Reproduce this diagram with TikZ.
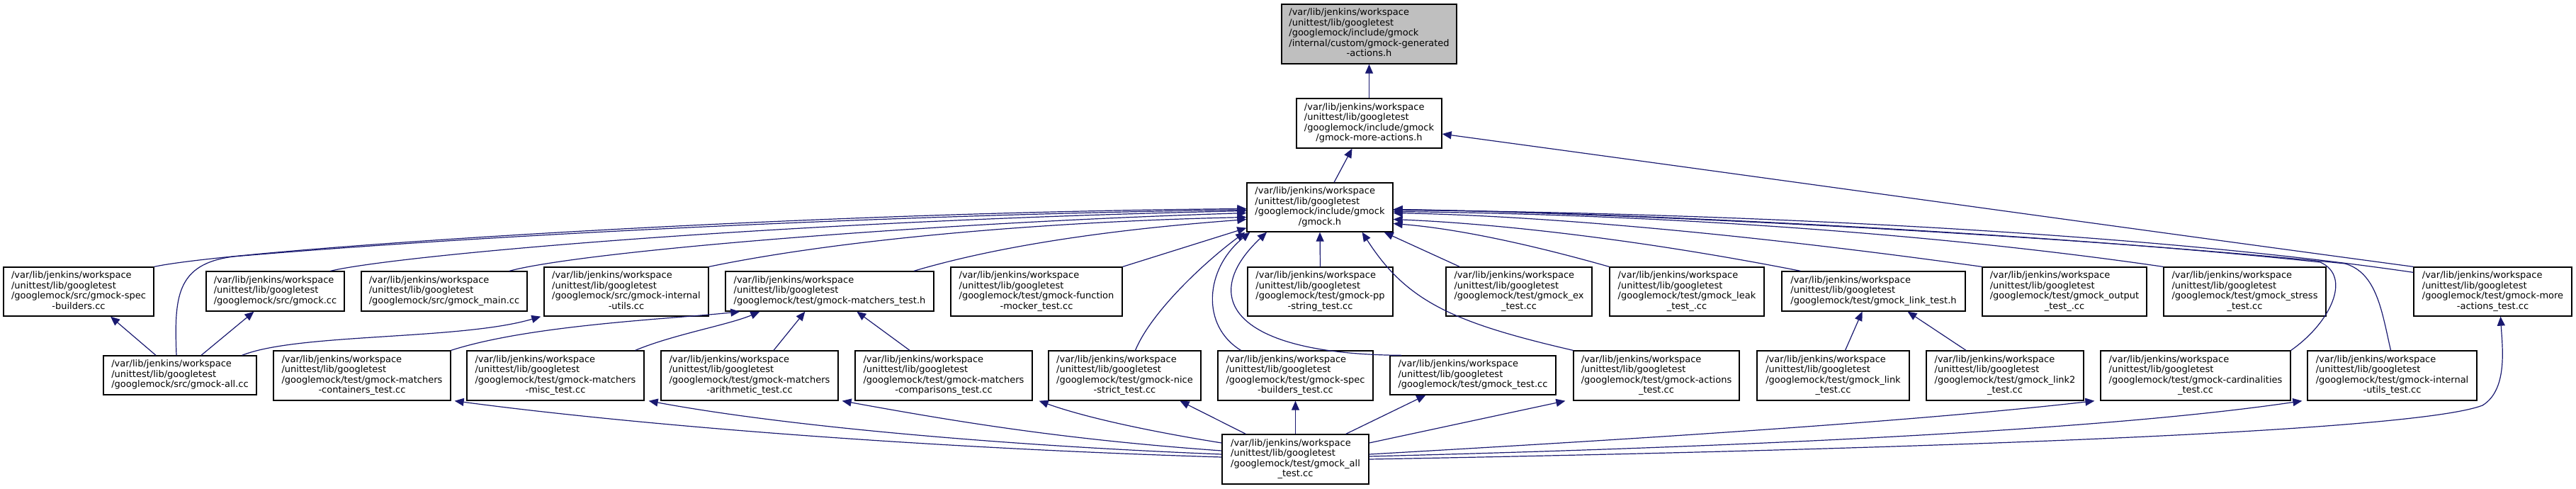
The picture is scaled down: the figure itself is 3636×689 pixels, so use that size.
\documentclass[tikz,border=0pt]{standalone}
\usepackage{fontspec}
\setmainfont{DejaVu Sans}
\usetikzlibrary{arrows.meta,calc}
\definecolor{edgeblue}{HTML}{191970}
\definecolor{rootgray}{HTML}{BFBFBF}
\newcommand{\nlab}[2]{\begin{tabular}{@{}l@{}}#1\\\multicolumn{1}{@{}c@{}}{#2}\end{tabular}}
\newcommand{\ju}{/var/lib/jenkins/workspace\\/unittest/lib/googletest}
\begin{document}
\begin{tikzpicture}[x=1pt,y=-1pt,
 box/.style={draw=black,line width=1.3pt,fill=white,inner sep=0pt,font=\fontsize{13}{14.5}\selectfont,text=black},
 sz/.style 2 args={minimum width=#1pt,minimum height=#2pt},
 dep/.style={draw=edgeblue,line width=1.2pt,-{Triangle[length=13pt,width=11pt]}}]
\useasboundingbox (0,0) rectangle (3636,689);
% top
\node[box,sz={247}{84},fill=rootgray] (root) at (1932.5,48) {\nlab{\ju\\/googlemock/include/gmock\\/internal/custom/gmock-generated}{-actions.h}};
\node[box,sz={205}{70}] (mah) at (1932.5,174) {\nlab{\ju\\/googlemock/include/gmock}{/gmock-more-actions.h}};
\node[box,sz={206}{69}] (gh) at (1863,292.5) {\nlab{\ju\\/googlemock/include/gmock}{/gmock.h}};
% row 2
\node[box,sz={212}{69}] (srcsb) at (111,411.5) {\nlab{\ju\\/googlemock/src/gmock-spec}{-builders.cc}};
\node[box,sz={195}{56}] (srcgm) at (388.5,411) {\nlab{\ju}{/googlemock/src/gmock.cc}};
\node[box,sz={234}{56}] (srcmain) at (627,411) {\nlab{\ju}{/googlemock/src/gmock\_main.cc}};
\node[box,sz={232}{69}] (srciu) at (884,411.5) {\nlab{\ju\\/googlemock/src/gmock-internal}{-utils.cc}};
\node[box,sz={294}{56}] (mth) at (1171,411) {\nlab{\ju}{/googlemock/test/gmock-matchers\_test.h}};
\node[box,sz={242}{69}] (fm) at (1463,411.5) {\nlab{\ju\\/googlemock/test/gmock-function}{-mocker\_test.cc}};
\node[box,sz={205}{69}] (pp) at (1863.5,411.5) {\nlab{\ju\\/googlemock/test/gmock-pp}{-string\_test.cc}};
\node[box,sz={206}{69}] (ex) at (2144,411.5) {\nlab{\ju\\/googlemock/test/gmock\_ex}{\_test.cc}};
\node[box,sz={218}{69}] (leak) at (2381,411.5) {\nlab{\ju\\/googlemock/test/gmock\_leak}{\_test\_.cc}};
\node[box,sz={259}{56}] (lth) at (2644.5,411) {\nlab{\ju}{/googlemock/test/gmock\_link\_test.h}};
\node[box,sz={232}{69}] (out) at (2914,411.5) {\nlab{\ju\\/googlemock/test/gmock\_output}{\_test\_.cc}};
\node[box,sz={229}{69}] (stress) at (3168.5,411.5) {\nlab{\ju\\/googlemock/test/gmock\_stress}{\_test.cc}};
\node[box,sz={223}{69}] (mat) at (3518.5,411.5) {\nlab{\ju\\/googlemock/test/gmock-more}{-actions\_test.cc}};
% row 3
\node[box,sz={216}{55}] (all) at (254,529.5) {\nlab{\ju}{/googlemock/src/gmock-all.cc}};
\node[box,sz={250}{70}] (cont) at (511,530) {\nlab{\ju\\/googlemock/test/gmock-matchers}{-containers\_test.cc}};
\node[box,sz={250}{70}] (misc) at (784,530) {\nlab{\ju\\/googlemock/test/gmock-matchers}{-misc\_test.cc}};
\node[box,sz={250}{70}] (arith) at (1058,530) {\nlab{\ju\\/googlemock/test/gmock-matchers}{-arithmetic\_test.cc}};
\node[box,sz={250}{70}] (comp) at (1332,530) {\nlab{\ju\\/googlemock/test/gmock-matchers}{-comparisons\_test.cc}};
\node[box,sz={215}{70}] (nice) at (1587.5,530) {\nlab{\ju\\/googlemock/test/gmock-nice}{-strict\_test.cc}};
\node[box,sz={219}{70}] (sbt) at (1828.5,530) {\nlab{\ju\\/googlemock/test/gmock-spec}{-builders\_test.cc}};
\node[box,sz={234}{55}] (gt) at (2079,529.5) {\nlab{\ju}{/googlemock/test/gmock\_test.cc}};
\node[box,sz={234}{70}] (act) at (2338,530) {\nlab{\ju\\/googlemock/test/gmock-actions}{\_test.cc}};
\node[box,sz={215}{70}] (lnk) at (2587.5,530) {\nlab{\ju\\/googlemock/test/gmock\_link}{\_test.cc}};
\node[box,sz={222}{70}] (lnk2) at (2830,530) {\nlab{\ju\\/googlemock/test/gmock\_link2}{\_test.cc}};
\node[box,sz={268}{70}] (card) at (3099,530) {\nlab{\ju\\/googlemock/test/gmock-cardinalities}{\_test.cc}};
\node[box,sz={239}{70}] (iut) at (3376.5,530) {\nlab{\ju\\/googlemock/test/gmock-internal}{-utils\_test.cc}};
% bottom
\node[box,sz={207}{70}] (gat) at (1828.5,648) {\nlab{\ju\\/googlemock/test/gmock\_all}{\_test.cc}};
% top edges
\draw[dep] (mah.north) -- (root.south);
\draw[dep] ($(gh.north)+(20,0)$) -- ($(mah.south)+(-24,0)$);
\draw[dep] (mat.north west) .. controls (2950,315) and (2450,245) .. ($(mah.east)+(0,15)$);
% into gmock.h from the left
\draw[dep] (srcsb.north east) .. controls (330,352) and (1100,300) .. ($(gh.west)+(0,2)$);
\draw[dep] ($(all.north)+(-5,0)$) .. controls (246,420) and (248,372) .. (330,362) .. controls (700,330) and (1300,302) .. ($(gh.west)+(0,3.5)$);
\draw[dep] ($(srcgm.north)+(78,0)$) .. controls (560,360) and (1100,312) .. ($(gh.west)+(0,5)$);
\draw[dep] ($(srcmain.north)+(92,0)$) .. controls (820,355) and (1300,315) .. ($(gh.west)+(0,8)$);
\draw[dep] (srciu.north east) .. controls (1200,335) and (1500,312) .. ($(gh.west)+(0,14)$);
\draw[dep] ($(mth.north)+(119,0)$) .. controls (1450,335) and (1650,318) .. ($(gh.west)+(0,17)$);
\draw[dep] (fm.north east) -- ($(gh.south west)+(0,-6)$);
% into gmock.h from below
\draw[dep] ($(nice.north)+(15,0)$) .. controls (1625,440) and (1700,370) .. ($(gh.south west)+(-2,0)$);
\draw[dep] ($(sbt.north)+(-77,0)$) .. controls (1695,460) and (1700,380) .. ($(gh.south west)+(5,0)$);
\draw[dep] ($(gt.north west)+(17,0)$) .. controls (1740,500) and (1690,420) .. ($(gh.south)+(-75,0)$);
\draw[dep] (pp.north) -- (gh.south);
\draw[dep] (act.north west) .. controls (2050,455) and (1985,425) .. ($(gh.south east)+(-44,0)$);
\draw[dep] ($(ex.north west)+(20,0)$) -- ($(gh.south east)+(-13,0)$);
% into gmock.h from the right
\draw[dep] (leak.north west) .. controls (2150,342) and (2050,322) .. ($(gh.east)+(0,23)$);
\draw[dep] ($(lth.north west)+(27,0)$) .. controls (2300,335) and (2100,315) .. ($(gh.east)+(0,17)$);
\draw[dep] (out.north west) .. controls (2500,335) and (2200,305) .. ($(gh.east)+(0,8)$);
\draw[dep] (stress.north west) .. controls (2700,325) and (2300,302) .. ($(gh.east)+(0,6)$);
\draw[dep] ($(mat.north west)+(0,8)$) .. controls (3000,325) and (2400,300) .. ($(gh.east)+(0,4)$);
\draw[dep] (card.north east) .. controls (3290,455) and (3320,390) .. (3275,370) .. controls (2900,330) and (2300,300) .. ($(gh.east)+(0,3)$);
\draw[dep] ($(iut.north)+(-2,0)$) .. controls (3362,440) and (3355,385) .. (3310,372) .. controls (2920,332) and (2300,301) .. ($(gh.east)+(0,3)$);
% into matchers_test.h
\draw[dep] (cont.north east) .. controls (750,458) and (950,450) .. ($(mth.south west)+(21,0)$);
\draw[dep] ($(misc.north east)+(-13,0)$) .. controls (950,472) and (1030,458) .. ($(mth.south west)+(49,0)$);
\draw[dep] ($(arith.north)+(34,0)$) -- ($(mth.south west)+(113,0)$);
\draw[dep] ($(comp.north)+(-48,0)$) -- ($(mth.south west)+(186,0)$);
% into link_test.h
\draw[dep] ($(lnk.north)+(17,0)$) -- ($(lth.south)+(-16,0)$);
\draw[dep] ($(lnk2.north)+(-55,0)$) -- ($(lth.south)+(48,0)$);
% from gmock-all.cc
\draw[dep] ($(all.north)+(-34,0)$) -- ($(srcsb.south)+(45,0)$);
\draw[dep] ($(all.north)+(30,0)$) -- ($(srcgm.south)+(-30,0)$);
\draw[dep] ($(all.north east)+(-21,0)$) .. controls (420,470) and (650,480) .. ($(srciu.south west)+(-4,0)$);
% from gmock_all_test.cc
\draw[dep] ($(gat.west)+(0,-23)$) .. controls (1600,605) and (1520,585) .. ($(comp.south east)+(9,0)$);
\draw[dep] ($(gat.west)+(0,-12)$) .. controls (1500,620) and (1350,595) .. ($(arith.south east)+(5,0)$);
\draw[dep] ($(gat.west)+(0,-7)$) .. controls (1400,628) and (1100,600) .. ($(misc.south east)+(6,0)$);
\draw[dep] ($(gat.west)+(0,-3)$) .. controls (1300,632) and (900,600) .. ($(cont.south east)+(5,0)$);
\draw[dep] ($(gat.north west)+(34,0)$) -- ($(nice.south)+(78,0)$);
\draw[dep] (gat.north) -- (sbt.south);
\draw[dep] ($(gat.north east)+(-33,0)$) -- ($(gt.south west)+(51,0)$);
\draw[dep] ($(gat.east)+(0,-23)$) -- ($(act.south west)+(-11,0)$);
\draw[dep] ($(gat.east)+(0,-7)$) .. controls (2300,620) and (2700,595) .. ($(card.south west)+(-8,0)$);
\draw[dep] ($(gat.east)+(0,-4)$) .. controls (2400,632) and (2950,610) .. ($(iut.south west)+(-7,0)$);
\draw[dep] (gat.east) .. controls (2600,636) and (3400,612) .. (3504,572) .. controls (3540,550) and (3532,490) .. ($(mat.south)+(11,0)$);
\end{tikzpicture}
\end{document}
